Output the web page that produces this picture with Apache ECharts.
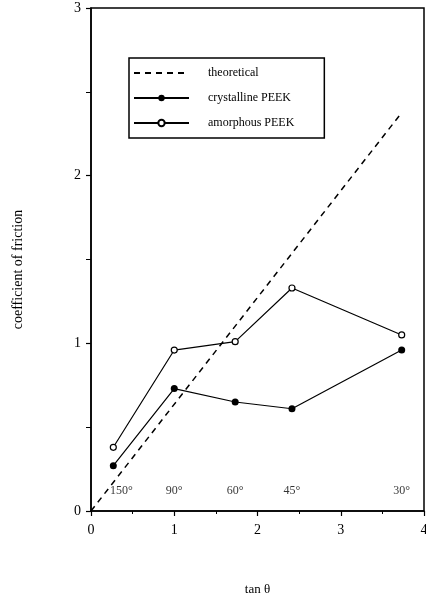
<!DOCTYPE html>
<html>
<head>
<meta charset="utf-8">
<script src="https://cdn.jsdelivr.net/npm/echarts@6/dist/echarts.min.js"></script>
<style>
    html, body { margin: 0; padding: 0; background: #fff; }
    #main { width: 426px; height: 610px; }
</style>
</head>
<body>
<div id="main"></div>
<script type="text/javascript">
    // tan(theta) at each tool angle
    var tanTheta = [0.268, 1.0, 1.732, 2.414, 3.732];
    var angleLabels = ['150°', '90°', '60°', '45°', '30°'];
    var crystalline = [0.27, 0.73, 0.65, 0.61, 0.96];
    var amorphous = [0.38, 0.96, 1.01, 1.33, 1.05];
    // theoretical line end points
    var theoryX = [0, 3.732];
    var theoryY = [0, 2.376];

    var serif = 'Liberation Serif';

    function pairs(xs, ys){
        var out = [];
        for(var i = 0; i < xs.length; i++){
            out.push([xs[i], ys[i]]);
        }
        return out;
    }

    var angleData = [];
    for(var i = 0; i < tanTheta.length; i++){
        angleData.push({
            value: [tanTheta[i], 0.12],
            name: angleLabels[i],
            label: { offset: i == 0 ? [8, 0] : [0, 0] }
        });
    }

    var myChart = echarts.init(document.getElementById('main'));

    var option = {
        animation: false,
        grid: {
            left: 91, right: 2, top: 8, bottom: 99,
            outerBoundsMode: 'none',
            show: true,
            borderColor: '#000',
            borderWidth: 1.5,
            backgroundColor: 'transparent'
        },
        legend: {
            orient: 'vertical',
            left: 129,
            top: 58,
            borderColor: '#000',
            borderWidth: 1.5,
            padding: [9, 30, 9, 4],
            itemWidth: 55,
            itemHeight: 8,
            itemGap: 13,
            textStyle: { fontFamily: serif, fontSize: 12, color: '#000', padding: [0, 0, 0, 14] },
            data: [
                { name: 'theoretical', itemStyle: { opacity: 0 } },
                'crystalline PEEK',
                'amorphous PEEK'
            ]
        },
        xAxis: {
            type: 'value',
            min: 0, max: 4, interval: 1,
            name: 'tan θ',
            nameLocation: 'middle',
            nameGap: 72,
            nameTextStyle: { fontFamily: serif, fontSize: 13, color: '#000' },
            axisLine: { lineStyle: { color: '#000', width: 1.5 } },
            axisTick: { length: 5, lineStyle: { color: '#000', width: 1.2 } },
            minorTick: { show: true, splitNumber: 2, length: 3, lineStyle: { color: '#000' } },
            axisLabel: { margin: 12, fontFamily: serif, fontSize: 14, color: '#000' },
            splitLine: { show: false }
        },
        yAxis: {
            type: 'value',
            min: 0, max: 3, interval: 1,
            name: 'coefficient of friction',
            nameLocation: 'middle',
            nameGap: 66,
            nameRotate: 90,
            nameTextStyle: { fontFamily: serif, fontSize: 14, color: '#000', padding: [0, 20, 0, 0] },
            axisLine: { lineStyle: { color: '#000', width: 1.5 } },
            axisTick: { length: 5, lineStyle: { color: '#000', width: 1.2 } },
            minorTick: { show: true, splitNumber: 2, length: 5, lineStyle: { color: '#000' } },
            axisLabel: { margin: 10, fontFamily: serif, fontSize: 14, color: '#000' },
            splitLine: { show: false }
        },
        series: [
            {
                name: 'theoretical',
                type: 'line',
                symbol: 'none',
                lineStyle: { color: '#000', width: 1.5, type: [6, 5] },
                itemStyle: { color: '#000' },
                data: pairs(theoryX, theoryY)
            },
            {
                name: 'crystalline PEEK',
                type: 'line',
                symbol: 'circle',
                symbolSize: 7,
                lineStyle: { color: '#000', width: 1.2 },
                itemStyle: { color: '#000' },
                data: pairs(tanTheta, crystalline)
            },
            {
                name: 'amorphous PEEK',
                type: 'line',
                symbol: 'circle',
                symbolSize: 6,
                lineStyle: { color: '#000', width: 1.2 },
                itemStyle: { color: '#fff', borderColor: '#000', borderWidth: 1.2 },
                data: pairs(tanTheta, amorphous)
            },
            {
                name: 'angles',
                type: 'scatter',
                symbolSize: 0,
                silent: true,
                label: {
                    show: true,
                    position: 'inside',
                    formatter: '{b}',
                    fontFamily: serif,
                    fontSize: 12,
                    color: '#000'
                },
                data: angleData
            }
        ]
    };

    myChart.setOption(option);
</script>
</body>
</html>
